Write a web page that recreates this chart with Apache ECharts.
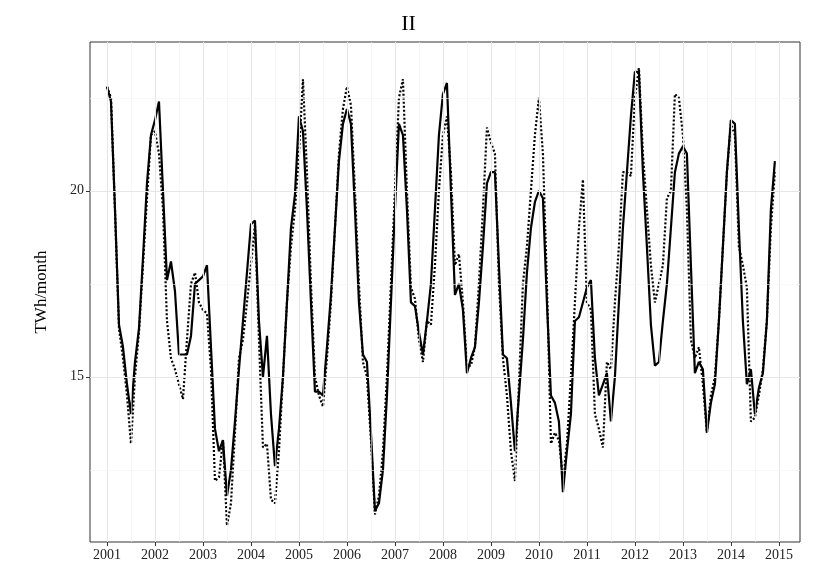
<!DOCTYPE html>
<html><head><meta charset="utf-8">
<script src="https://cdn.jsdelivr.net/npm/echarts@6/dist/echarts.min.js"></script>
<style>html,body{margin:0;padding:0;background:#fff}#c{width:817px;height:581px}</style>
</head><body><div id="c"></div>
<script>
const startYear = 2001;
const solid = [
22.8,22.4,19.5,16.4,15.8,14.8,14.0,15.4,16.3,18.2,20.2,21.5,
21.9,22.4,20.0,17.6,18.1,17.3,15.6,15.6,15.6,16.1,17.5,17.6,
17.7,18.0,15.8,13.6,13.0,13.3,11.8,12.5,13.8,15.2,16.5,17.8,
19.1,19.2,16.5,15.0,16.1,14.0,12.6,13.6,15.0,17.0,19.0,19.9,
22.0,21.6,19.5,17.0,14.6,14.6,14.5,15.8,17.2,19.0,20.8,21.8,
22.2,21.8,19.5,17.0,15.6,15.4,13.5,11.4,11.6,12.5,14.5,17.0,
19.5,21.8,21.5,19.5,17.0,16.9,16.2,15.6,16.5,17.5,19.5,21.5,
22.6,22.9,20.0,17.2,17.5,16.8,15.1,15.5,15.8,17.0,18.5,20.2,
20.5,20.5,18.0,15.6,15.5,14.3,13.0,14.5,16.0,17.8,19.0,19.7,
20.0,19.8,17.0,14.5,14.3,13.8,11.9,13.0,14.0,16.5,16.6,17.0,
17.4,17.6,15.5,14.5,14.8,15.1,13.8,15.0,17.0,19.0,20.5,22.0,
23.2,23.2,20.5,18.5,16.4,15.3,15.4,16.5,17.5,19.0,20.5,21.0,
21.2,21.0,18.0,15.1,15.4,15.2,13.5,14.3,14.8,16.5,18.5,20.5,
21.9,21.8,19.0,16.5,14.8,15.2,14.0,14.7,15.1,16.5,19.5,20.8];
const dotted = [
22.8,22.5,19.5,16.3,15.5,14.5,13.2,15.0,16.2,18.0,19.8,21.5,
21.6,21.0,19.5,16.5,15.5,15.2,14.8,14.4,16.0,17.5,17.8,17.0,
16.8,16.7,15.2,12.2,12.3,13.3,11.0,11.6,13.5,15.5,16.0,17.0,
18.0,19.1,16.0,13.1,13.2,11.7,11.6,13.0,15.0,17.0,18.5,19.5,
21.0,23.0,20.5,17.5,15.0,14.5,14.2,15.5,17.0,19.0,21.0,22.2,
22.8,22.3,20.0,17.5,15.4,15.0,13.3,11.3,11.8,13.0,15.0,17.5,
20.0,22.5,23.0,20.0,17.4,17.1,16.0,15.4,16.5,16.4,18.0,20.0,
21.5,22.0,20.5,18.0,18.3,17.0,15.3,15.3,15.8,17.5,19.5,21.7,
21.3,21.0,17.5,15.5,14.5,13.0,12.2,14.8,17.5,18.5,20.0,21.5,
22.5,21.0,17.5,13.2,13.5,13.3,12.3,13.2,15.0,17.0,19.0,20.3,
17.0,16.8,14.0,13.6,13.1,15.4,15.2,17.0,18.5,20.5,20.5,20.4,
22.5,23.3,21.0,19.5,18.0,17.0,17.5,18.0,19.8,20.0,22.6,22.5,
21.5,19.5,16.0,15.5,15.8,14.8,13.5,14.5,15.0,16.5,18.5,20.5,
21.8,21.5,18.5,18.0,17.4,13.8,13.9,14.5,15.2,16.5,19.0,20.5];
const xTicks = [2001,2002,2003,2004,2005,2006,2007,2008,2009,2010,2011,2012,2013,2014,2015];
const yTicks = [15,20];
const yMinor = [12.5,17.5,22.5];

const toPts = a => a.map((v,i)=>[startYear+i/12, v]);
const xMinor = xTicks.slice(0,-1).map(y=>y+0.5);
const font = 'Liberation Serif';
const gridLines = [];
xTicks.forEach(v=>gridLines.push({xAxis:v,lineStyle:{color:'#e6e6e6',width:1.1,type:'solid'}}));
xMinor.forEach(v=>gridLines.push({xAxis:v,lineStyle:{color:'#f4f4f4',width:0.6,type:'solid'}}));
yTicks.forEach(v=>gridLines.push({yAxis:v,lineStyle:{color:'#e6e6e6',width:1.1,type:'solid'}}));
yMinor.forEach(v=>gridLines.push({yAxis:v,lineStyle:{color:'#f4f4f4',width:0.6,type:'solid'}}));

const chart = echarts.init(document.getElementById('c'));
chart.setOption({
  animation:false,
  title:{text:'II',left:'center',top:8,textStyle:{fontFamily:font,fontSize:22,fontWeight:'normal',color:'#000'}},
  grid:{left:90,right:17,top:42,bottom:39,show:true,borderColor:'#333',borderWidth:1},
  xAxis:{type:'value',min:2000.646,max:2015.44,
    axisLine:{show:false},splitLine:{show:false},
    axisTick:{customValues:xTicks,length:4,lineStyle:{color:'#333'}},
    axisLabel:{customValues:xTicks,formatter:v=>String(Math.round(v)),fontFamily:font,fontSize:14,color:'#222',margin:6}},
  yAxis:{type:'value',min:10.56,max:24.0,name:'TWh/month',nameLocation:'middle',nameGap:40,
    nameTextStyle:{fontFamily:font,fontSize:17,color:'#000'},
    axisLine:{show:false},splitLine:{show:false},
    axisTick:{show:true,customValues:yTicks,length:4,lineStyle:{color:'#333'}},
    axisLabel:{customValues:yTicks,fontFamily:font,fontSize:14,color:'#222',margin:6}},
  series:[
    {type:'line',data:[],markLine:{silent:true,symbol:'none',label:{show:false},data:gridLines},z:1},
    {type:'line',data:toPts(dotted),showSymbol:false,lineStyle:{color:'#000',width:2.2,type:[2,2]},z:3},
    {type:'line',data:toPts(solid),showSymbol:false,lineStyle:{color:'#000',width:2.2},z:4}
  ]
});
</script></body></html>
